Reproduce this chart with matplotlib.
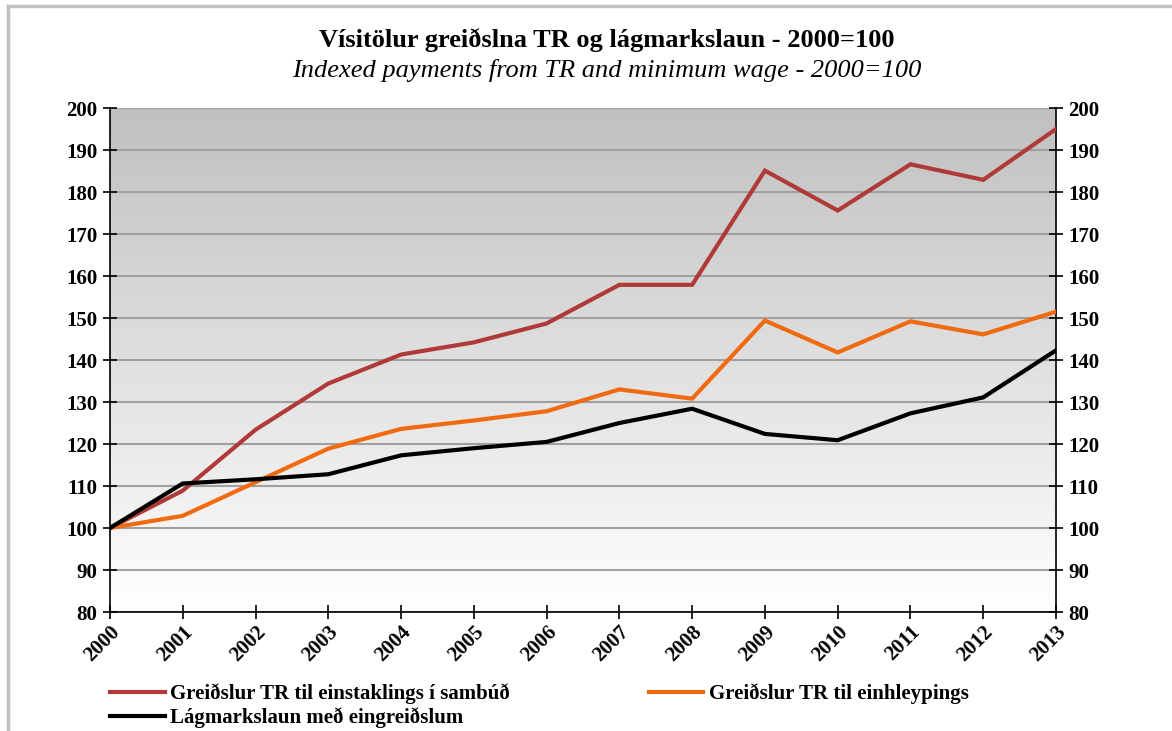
import matplotlib.pyplot as plt
import numpy as np
from matplotlib.colors import LinearSegmentedColormap
from matplotlib.lines import Line2D

years = [2000, 2001, 2002, 2003, 2004, 2005, 2006, 2007, 2008, 2009, 2010, 2011, 2012, 2013]
sambud = [100, 108.9, 123.4, 134.4, 141.3, 144.2, 148.7, 157.9, 157.9, 185.1, 175.6, 186.6, 182.9, 195.0]
einhleyp = [100, 102.9, 110.9, 118.9, 123.6, 125.6, 127.8, 133.0, 130.8, 149.4, 141.8, 149.2, 146.1, 151.5]
lagmark = [100, 110.6, 111.6, 112.8, 117.3, 119.0, 120.5, 125.0, 128.4, 122.4, 120.9, 127.3, 131.1, 142.3]

labels = ['Greiðslur TR til einstaklings í sambúð',
          'Greiðslur TR til einhleypings',
          'Lágmarkslaun með eingreiðslum']

plt.rcParams['font.family'] = ['Liberation Serif', 'DejaVu Serif']

fig = plt.figure(figsize=(11.72, 7.31), dpi=100)
ax = fig.add_axes([110 / 1172, 1 - 612 / 731, 946 / 1172, 504 / 731])

# background gradient, white at bottom -> grey at top
bg = LinearSegmentedColormap.from_list('bg', ['#ffffff', '#c0c0c0'])
grad = np.linspace(0.0, 1.0, 256).reshape(-1, 1)
ax.imshow(grad, cmap=bg, vmin=0, vmax=1, aspect='auto',
          extent=(2000, 2013, 80, 200), origin='lower', zorder=0)

ax.set_xlim(2000, 2013)
ax.set_ylim(80, 200)
ax.set_yticks(range(80, 201, 10))
ax.set_xticks(years)
ax.yaxis.grid(True, color='#a0a0a0', linewidth=1.5, zorder=1)

l1, = ax.plot(years, sambud, color='#b03a38', lw=3, zorder=3, solid_joinstyle='miter')
l2, = ax.plot(years, einhleyp, color='#f06a10', lw=3, zorder=3, solid_joinstyle='miter')
l3, = ax.plot(years, lagmark, color='black', lw=3, zorder=4, solid_joinstyle='miter')

ax.spines['top'].set_visible(False)
for s in ['left', 'right', 'bottom']:
    ax.spines[s].set_linewidth(1.2)

ax.tick_params(axis='y', direction='inout', length=10, width=1.2,
               right=True, labelright=True, labelsize=15, pad=4)
ax.tick_params(axis='x', direction='inout', length=10, width=1.2,
               labelsize=15, pad=2)
for lab in ax.get_xticklabels():
    lab.set_fontweight('bold')
    lab.set_rotation(45)
    lab.set_ha('right')
    lab.set_va('top')
    lab.set_rotation_mode('anchor')
for lab in ax.yaxis.get_ticklabels(which='both'):
    lab.set_fontweight('bold')

fig.text(607 / 1172, 1 - 40 / 731, 'Vísitölur greiðslna TR og lágmarkslaun - 2000=100',
         ha='center', va='center', fontsize=19, fontweight='bold')
fig.text(607 / 1172, 1 - 70 / 731, 'Indexed payments from TR and minimum wage - 2000=100',
         ha='center', va='center', fontsize=19, style='italic')

fig.legend([l1, l3, l2], [labels[0], labels[2], labels[1]], ncol=2,
           loc='upper left', bbox_to_anchor=(100 / 1172, 1 - 673 / 731),
           frameon=False, prop={'size': 15, 'weight': 'bold'},
           handlelength=2.6, handletextpad=0.25, columnspacing=6.7,
           labelspacing=0.15, borderpad=0)

# light grey frame around the chart
fig.add_artist(Line2D([8 / 1172, 1.0], [1 - 6 / 731] * 2, color='#c0c0c0', lw=2.5))
fig.add_artist(Line2D([8 / 1172] * 2, [0.0, 1 - 6 / 731], color='#c0c0c0', lw=2.5))

fig.savefig('out.png', dpi=100)
